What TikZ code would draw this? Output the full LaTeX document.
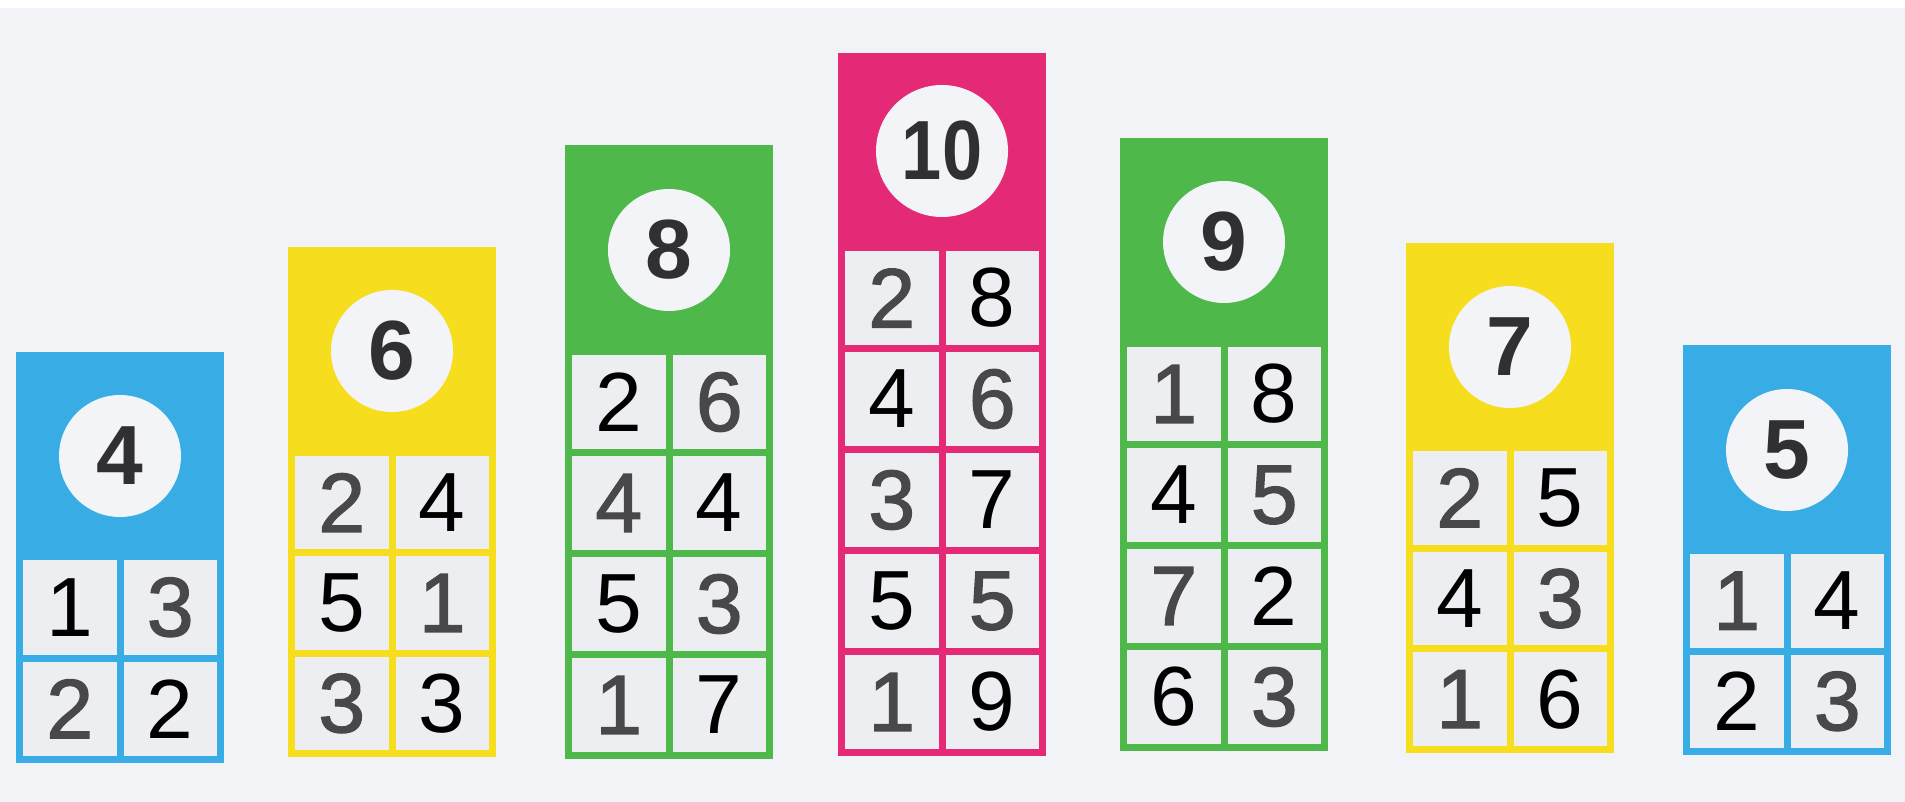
\documentclass[tikz,border=0pt]{standalone}
\usepackage{fontspec}
\setmainfont{Liberation Sans}
\newfontfamily\prtfont[FakeBold=1.6]{Liberation Sans}
\definecolor{bg}{RGB}{242,243,247}
\definecolor{cellc}{RGB}{236,238,242}
\definecolor{badgec}{RGB}{243,244,247}
\definecolor{hdig}{RGB}{48,48,50}
\definecolor{prt}{RGB}{72,72,76}
\definecolor{ink}{RGB}{0,0,0}
\definecolor{cblue}{RGB}{56,172,228}
\definecolor{cyellow}{RGB}{246,222,30}
\definecolor{cgreen}{RGB}{78,184,74}
\definecolor{cpink}{RGB}{228,42,118}
\newcommand\fprt{\prtfont}
\newcommand\fink{\relax}
\tikzset{
  colbox/.style={rectangle, draw=none, inner sep=0pt, outer sep=0pt},
  cellbox/.style={rectangle, fill=cellc, draw=none, inner sep=0pt, outer sep=0pt,
    font=\fontsize{84}{84}\selectfont},
  badge/.style={circle, fill=badgec, draw=none, inner sep=0pt, minimum size=122pt,
    font=\fontsize{84}{84}\selectfont\bfseries, text=hdig},
}
\newcommand\bt{7}
\newcommand{\hcol}[8]{%
  \pgfmathsetmacro\hcw{(208-3*\bt)/2}%
  \pgfmathsetmacro\hch{(#6-#5-#7*\bt)/#7}%
  \pgfmathsetmacro\hcolh{#6-#4}%
  \node[colbox, fill=#2, minimum width=208pt, minimum height=\hcolh pt, anchor=north west] (#1) at (#3,#4) {};
  \foreach \la/\lc/\ra/\rc [count=\i from 0] in {#8} {%
    \pgfmathsetmacro\hcy{#5+\i*(\hch+\bt)+\hch/2}%
    \pgfmathsetmacro\hlx{#3+\bt+\hcw/2}%
    \pgfmathsetmacro\hrx{#3+2*\bt+1.5*\hcw}%
    \node[cellbox, minimum width=\hcw pt, minimum height=\hch pt, text=\lc] (#1-\i-l) at (\hlx,\hcy) {\csname f\lc\endcsname\la};
    \node[cellbox, minimum width=\hcw pt, minimum height=\hch pt, text=\rc] (#1-\i-r) at (\hrx,\hcy) {\csname f\rc\endcsname\ra};
  }%
}
\begin{document}
\begin{tikzpicture}[x=1pt,y=-1pt]
\useasboundingbox (0,0) rectangle (1905,802);
\fill[bg] (0,0) rectangle (1905,802);
\fill[white] (0,0) rectangle (1905,8);

\hcol{c1}{cblue}{16}{352}{560}{763}{2}{1/ink/3/prt, 2/prt/2/ink}
\node[badge] (c1h) at (120,456) {4};

\hcol{c2}{cyellow}{288}{247}{456}{757}{3}{2/prt/4/ink, 5/ink/1/prt, 3/prt/3/ink}
\node[badge] (c2h) at (392,351) {6};

\hcol{c3}{cgreen}{565}{145}{355}{759}{4}{2/ink/6/prt, 4/prt/4/ink, 5/ink/3/prt, 1/prt/7/ink}
\node[badge] (c3h) at (669,250) {8};

\hcol{c4}{cpink}{838}{53}{251}{756}{5}{2/prt/8/ink, 4/ink/6/prt, 3/prt/7/ink, 5/ink/5/prt, 1/prt/9/ink}
\node[badge, minimum size=132pt] (c4h) at (942,151) {\scalebox{0.86}[1]{10}};

\hcol{c5}{cgreen}{1120}{138}{347}{751}{4}{1/prt/8/ink, 4/ink/5/prt, 7/prt/2/ink, 6/ink/3/prt}
\node[badge] (c5h) at (1224,242) {9};

\hcol{c6}{cyellow}{1406}{243}{451}{753}{3}{2/prt/5/ink, 4/ink/3/prt, 1/prt/6/ink}
\node[badge] (c6h) at (1510,347) {7};

\hcol{c7}{cblue}{1683}{345}{554}{755}{2}{1/prt/4/ink, 2/ink/3/prt}
\node[badge] (c7h) at (1787,450) {5};
\end{tikzpicture}
\end{document}
